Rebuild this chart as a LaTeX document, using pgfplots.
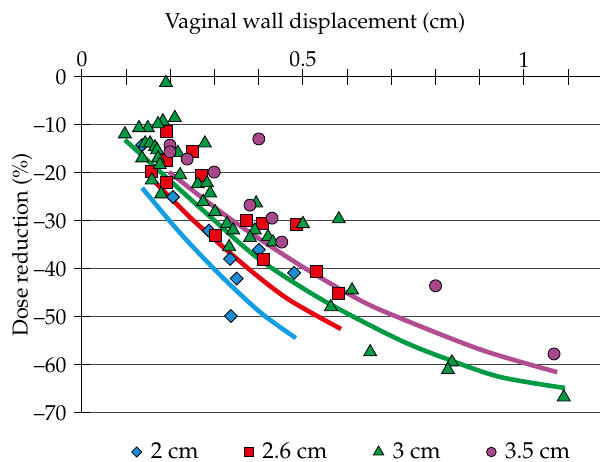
\documentclass[border=0pt]{standalone}
\usepackage[T1]{fontenc}
\usepackage{mathpazo}
\usepackage{pgfplots}
\pgfplotsset{compat=1.18}

\definecolor{cblue}{RGB}{28,140,212}
\definecolor{lblue}{RGB}{20,158,225}
\definecolor{cred}{RGB}{230,0,18}
\definecolor{cgreen}{RGB}{0,153,68}
\definecolor{cmag}{RGB}{168,72,140}
\definecolor{lmag}{RGB}{176,78,145}

\begin{document}
\fontsize{10.8}{13}\selectfont
\begin{tikzpicture}
\begin{axis}[
    name=ax,
    scale only axis,
    width=259pt, height=168pt,
    xmin=0, xmax=1.172,
    ymin=-70, ymax=0,
    axis x line*=top,
    axis y line*=left,
    xtick={0,0.5,1},
    xticklabels={0, 0.5, 1},
    minor xtick={0.1,0.2,0.3,0.4,0.6,0.7,0.8,0.9,1.1},
    ytick={-70,-60,-50,-40,-30,-20,-10,0},
    yticklabels={\textendash70, \textendash60, \textendash50, \textendash40,
                 \textendash30, \textendash20, \textendash10, 0},
    tick align=center,
    major tick length=8pt,
    minor tick length=8pt,
    every tick/.style={black, line width=0.5pt},
    ymajorgrids,
    grid style={black!75, line width=0.5pt},
    axis line style={black, line width=0.5pt},
    xticklabel style={yshift=-3pt},
    yticklabel style={anchor=east},
    xlabel={Vaginal wall displacement (cm)},
    xlabel style={at={(axis description cs:0.45,1)}, anchor=base, yshift=24pt},
    ylabel={Dose reduction (\%)},
    ylabel style={at={(axis description cs:-0.1158,0.5)}, anchor=center},
    legend style={at={(0.523,-0.116)}, anchor=center, draw=none, fill=none,
        font=\fontsize{11.5}{13}\selectfont,
        legend columns=-1,
        /tikz/every odd column/.append style={column sep=2.5pt},
        /tikz/every even column/.append style={column sep=21pt}},
    legend cell align=left,
]
% scatter series
\addplot[only marks, forget plot, mark=square*, mark size=2.3pt,
    mark options={rotate=45, fill=cblue, draw=black, line width=0.4pt}]
coordinates {(0.136,-14.2) (0.206,-25) (0.287,-32) (0.335,-37.9)
             (0.350,-42) (0.337,-49.8) (0.400,-36) (0.480,-40.8)};
\addplot[only marks, forget plot, mark=square*, mark size=3pt,
    mark options={fill=cred, draw=black, line width=0.4pt}]
coordinates {(0.190,-11.3) (0.249,-15.6) (0.190,-17.3) (0.156,-19.6)
             (0.270,-20.4) (0.190,-22) (0.371,-29.8) (0.408,-30.6)
             (0.486,-30.8) (0.301,-33) (0.410,-37.9) (0.530,-40.4)
             (0.580,-45)};
\addplot[only marks, forget plot, mark=triangle*, mark size=3.75pt,
    mark options={fill=cgreen, draw=black, line width=0.4pt}]
coordinates {(0.190,-1.2) (0.210,-8.5) (0.183,-9.2) (0.172,-9.8)
             (0.149,-10.6) (0.129,-10.6) (0.097,-11.9) (0.278,-13.8)
             (0.143,-13.8) (0.154,-13.8) (0.165,-14.6) (0.170,-15.2)
             (0.136,-16.9) (0.172,-16.9) (0.217,-15.8) (0.176,-18.3)
             (0.158,-21.5) (0.222,-20.4) (0.179,-24.4) (0.262,-22.3)
             (0.283,-22.1) (0.290,-24.2) (0.274,-26) (0.301,-28.1)
             (0.394,-26.3) (0.328,-30.6) (0.342,-31.9) (0.391,-31.9)
             (0.380,-33.5) (0.421,-33.3) (0.432,-34.4) (0.333,-35.4)
             (0.500,-30.6) (0.581,-29.6) (0.611,-44.4) (0.563,-47.9)
             (0.652,-57.3) (0.837,-59.4) (0.828,-61) (1.090,-66.7)};
\addplot[only marks, forget plot, mark=*, mark size=3pt,
    mark options={fill=cmag, draw=black, line width=0.4pt}]
coordinates {(0.199,-14.2) (0.199,-15.6) (0.238,-17.1) (0.299,-19.8)
             (0.400,-12.9) (0.380,-26.7) (0.430,-29.4) (0.452,-34.4)
             (0.800,-43.5) (1.068,-57.7)};
% fitted curves
\addplot[forget plot, smooth, no marks, lblue, line width=2.3pt]
coordinates {(0.136,-23.1) (0.222,-32.5) (0.312,-41.2) (0.403,-49)
             (0.484,-54.4)};
\addplot[forget plot, smooth, no marks, cred, line width=2.3pt]
coordinates {(0.154,-20.8) (0.251,-29.8) (0.380,-40.2) (0.470,-46.5)
             (0.586,-52.5)};
\addplot[forget plot, smooth, no marks, cgreen, line width=2.3pt]
coordinates {(0.097,-13.1) (0.222,-23.5) (0.296,-29.6) (0.403,-38.1)
             (0.545,-46.5) (0.719,-54.8) (0.833,-59) (0.946,-62.5)
             (1.093,-64.8)};
\addplot[forget plot, smooth, no marks, lmag, line width=2.3pt]
coordinates {(0.197,-19.8) (0.339,-29.8) (0.493,-39.2) (0.629,-46.5)
             (0.719,-50.2) (0.905,-56.9) (1.075,-61.5)};
% legend
\addlegendimage{only marks, mark=square*, mark size=1.8pt,
    mark options={rotate=45, fill=cblue, draw=black, line width=0.4pt}}
\addlegendentry{2 cm}
\addlegendimage{only marks, mark=square*, mark size=2.2pt,
    mark options={fill=cred, draw=black, line width=0.4pt}}
\addlegendentry{2.6 cm}
\addlegendimage{only marks, mark=triangle*, mark size=3pt,
    mark options={fill=cgreen, draw=black, line width=0.4pt}}
\addlegendentry{3 cm}
\addlegendimage{only marks, mark=*, mark size=2.4pt,
    mark options={fill=cmag, draw=black, line width=0.4pt}}
\addlegendentry{3.5 cm}
\end{axis}
\pgfresetboundingbox
\path[use as bounding box] ([shift={(-41pt,-24.5pt)}]ax.south west)
    rectangle ([shift={(1.5pt,38.5pt)}]ax.north east);
\end{tikzpicture}
\end{document}
